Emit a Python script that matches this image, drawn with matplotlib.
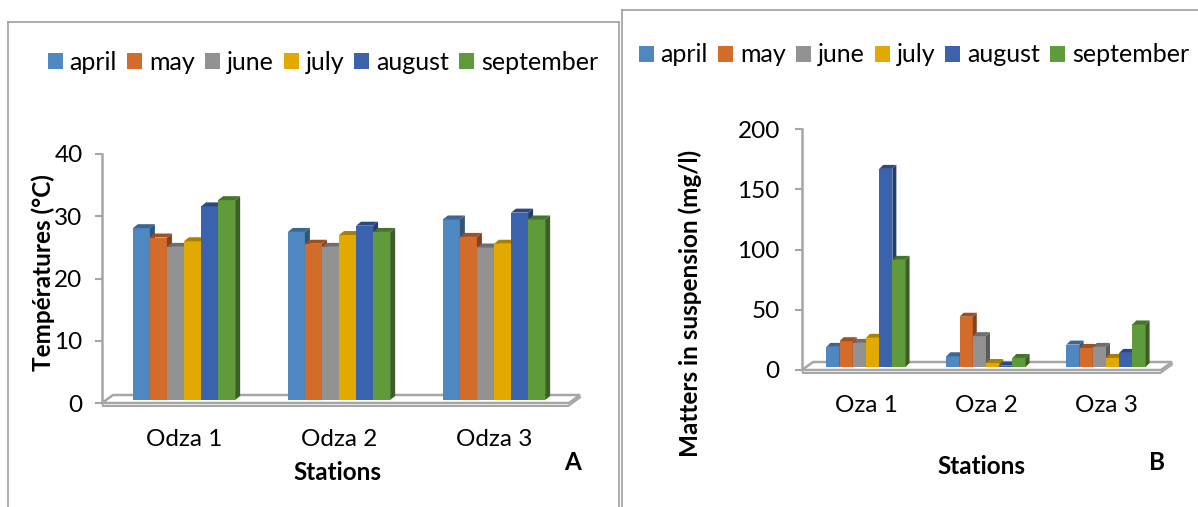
import matplotlib.pyplot as plt
from matplotlib.patches import Polygon, Rectangle, Patch
from matplotlib.lines import Line2D
from matplotlib.colors import to_rgb

plt.rcParams['font.family'] = ['Lato', 'DejaVu Sans']

W, H = 1198, 507

months = ["april", "may", "june", "july", "august", "september"]
colors = ["#4F88C0", "#D36B2B", "#929292", "#E2AA00", "#3A62AD", "#5F9A3B"]

# A: water temperature (°C) per month at each station
stations_a = ["Odza 1", "Odza 2", "Odza 3"]
temp_april = [27.6, 27.0, 29.0]
temp_may = [26.1, 25.1, 26.2]
temp_june = [24.6, 24.6, 24.5]
temp_july = [25.5, 26.5, 25.1]
temp_august = [31.1, 28.0, 30.1]
temp_september = [32.1, 27.0, 29.0]

# B: matters in suspension (mg/l) per month at each station
stations_b = ["Oza 1", "Oza 2", "Oza 3"]
mes_april = [16.7, 8.9, 18.6]
mes_may = [21.4, 41.7, 15.8]
mes_june = [20.0, 25.6, 16.7]
mes_july = [24.2, 3.3, 7.5]
mes_august = [164.4, 1.1, 11.7]
mes_september = [88.9, 7.5, 35.3]

temp_series = [temp_april, temp_may, temp_june, temp_july, temp_august, temp_september]
mes_series = [mes_april, mes_may, mes_june, mes_july, mes_august, mes_september]

GRAY = "#A6A6A6"
TICK_FS = 17.5
LABEL_FS = 17.5


def shade(c, f):
    r, g, b = to_rgb(c)
    return (r * f, g * f, b * f)


def axes_px(fig, left, top, right, bottom):
    return fig.add_axes([left / W, 1 - bottom / H, (right - left) / W, (bottom - top) / H])


def draw_3d_bars(ax, series, labels, yticks, bar_w, depth, lift, base_lift):
    x0, x1 = ax.get_xlim()
    y0, y1 = ax.get_ylim()
    pos = ax.get_position()
    ux = (x1 - x0) / (pos.width * W)
    uy = (y1 - y0) / (pos.height * H)
    dx, dy = depth * ux, lift * uy
    base = base_lift * uy

    # floor slab
    fx_back, fy_back = 11 * ux, 8 * uy
    floor = Polygon([(x0, 0), (x0 + fx_back, fy_back), (x1, fy_back),
                     (x1 - fx_back, 0)], closed=True, facecolor="white",
                    edgecolor=GRAY, lw=1.8, clip_on=False, zorder=1)
    ax.add_patch(floor)
    ax.plot([x0, x1 - fx_back], [-2.5 * uy, -2.5 * uy], color=GRAY, lw=1.5,
            clip_on=False, zorder=1, solid_capstyle="butt")
    ax.plot([x1 - fx_back, x1], [-2.5 * uy, fy_back - 2.5 * uy], color=GRAY, lw=1.5,
            clip_on=False, zorder=1)

    n = len(series)
    z = 2
    for i in range(len(labels)):
        for k, vals in enumerate(series):
            xl = i + (k - n / 2) * bar_w
            h = vals[i]
            c = colors[k]
            ax.add_patch(Rectangle((xl, base), bar_w, h, facecolor=c,
                                   edgecolor="none", zorder=z, clip_on=False))
            ax.add_patch(Polygon([(xl + bar_w, base), (xl + bar_w + dx, base + dy),
                                  (xl + bar_w + dx, base + h + dy), (xl + bar_w, base + h)],
                                 facecolor=shade(c, 0.62), edgecolor="none",
                                 zorder=z, clip_on=False))
            ax.add_patch(Polygon([(xl, base + h), (xl + dx, base + h + dy),
                                  (xl + bar_w + dx, base + h + dy), (xl + bar_w, base + h)],
                                 facecolor=shade(c, 0.75), edgecolor="none",
                                 zorder=z, clip_on=False))
            z += 1

    for s in ["top", "right", "bottom"]:
        ax.spines[s].set_visible(False)
    ax.spines["left"].set_color(GRAY)
    ax.spines["left"].set_linewidth(1.8)
    ax.set_facecolor("none")
    ax.set_yticks(yticks)
    ax.set_xticks(range(len(labels)))
    ax.set_xticklabels(labels)
    ax.tick_params(axis="x", length=0, labelsize=TICK_FS)
    ax.tick_params(axis="y", length=5, width=1.5, color=GRAY, labelsize=TICK_FS)


fig = plt.figure(figsize=(W / 100, H / 100), dpi=100)

# panel frames
frame_kw = dict(color="#A0A0A0", lw=1.2, transform=fig.transFigure)
fig.add_artist(Line2D([8 / W, 619 / W], [1 - 22 / H, 1 - 22 / H], **frame_kw))
fig.add_artist(Line2D([8 / W, 8 / W], [1 - 22 / H, 0], **frame_kw))
fig.add_artist(Line2D([619 / W, 619 / W], [1 - 22 / H, 0], **frame_kw))
fig.add_artist(Line2D([622 / W, 1], [1 - 10 / H, 1 - 10 / H], **frame_kw))
fig.add_artist(Line2D([622 / W, 622 / W], [1 - 10 / H, 0], **frame_kw))

# panel A
ax_a = axes_px(fig, 102, 154, 580, 403)
ax_a.set_xlim(-0.529, 2.555)
ax_a.set_ylim(0, 40)
draw_3d_bars(ax_a, temp_series, stations_a, range(0, 41, 10), 0.11, 5, 4, 3)
ax_a.tick_params(axis="y", pad=9)
ax_a.tick_params(axis="x", pad=19)

# panel B
ax_b = axes_px(fig, 802, 129, 1172, 370)
ax_b.set_xlim(-0.533, 2.55)
ax_b.set_ylim(0, 200)
draw_3d_bars(ax_b, mes_series, stations_b, range(0, 201, 50), 0.11, 4, 4, 3)
ax_b.tick_params(axis="y", pad=11)
ax_b.tick_params(axis="x", pad=18)

bold = dict(fontsize=LABEL_FS, fontweight="bold", ha="center", va="center")
fig.text(43 / W, 1 - 273 / H, "Températures (°C)", rotation=90, **bold)
fig.text(337 / W, 1 - 472 / H, "Stations", **bold)
fig.text(573 / W, 1 - 462 / H, "A", **bold)
fig.text(690 / W, 1 - 303 / H, "Matters in suspension (mg/l)", rotation=90, **bold)
fig.text(981 / W, 1 - 467 / H, "Stations", **bold)
fig.text(1157 / W, 1 - 463 / H, "B", **bold)

handles = [Patch(facecolor=c, edgecolor="none", label=m) for m, c in zip(months, colors)]
leg_kw = dict(ncol=6, frameon=False, fontsize=18, handlelength=0.6, handleheight=0.6,
              handletextpad=0.28, columnspacing=0.4, loc="center")
fig.legend(handles=handles, bbox_to_anchor=(323 / W, 1 - 62 / H), **leg_kw)
fig.legend(handles=handles, bbox_to_anchor=(914 / W, 1 - 55 / H), **leg_kw)

fig.savefig("out.png", dpi=100)
